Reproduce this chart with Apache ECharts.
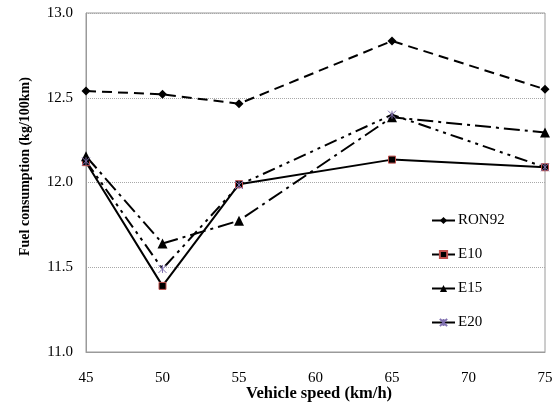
<!DOCTYPE html>
<html>
<head>
<meta charset="utf-8">
<script src="https://cdn.jsdelivr.net/npm/echarts@6/dist/echarts.min.js"></script>
<style>
  html, body { margin: 0; padding: 0; background: #fff; }
  #chart { width: 559px; height: 411px; }
</style>
</head>
<body>
<div id="chart"></div>
<script>
// Vehicle speed (km/h)
const speeds = [45, 50, 55, 65, 75];

// Fuel consumption (kg/100km) per fuel
const ron92 = [12.54, 12.52, 12.465, 12.835, 12.55];
const e10   = [12.12, 11.39, 11.99, 12.135, 12.09];
const e15   = [12.155, 11.64, 11.775, 12.385, 12.295];
const e20   = [12.125, 11.49, 11.985, 12.40, 12.09];

const yTicks = [11.0, 11.5, 12.0, 12.5, 13.0];

const xTitle = 'Vehicle speed (km/h)';
const yTitle = 'Fuel consumption (kg/100km)';

const serif = '"Liberation Serif", "DejaVu Serif", serif';
const starPath = 'path://M0,0 L10,10 M10,0 L0,10 M5,0 L5,10';

function pairs(vals) {
  return speeds.map((s, i) => [s, vals[i]]);
}

const chart = echarts.init(document.getElementById('chart'), null, { renderer: 'canvas' });

chart.setOption({
  animation: false,
  backgroundColor: '#fff',
  grid: {
    left: 86, right: 14, top: 13, bottom: 59,
    show: true, borderColor: '#9a9a9a', borderWidth: 1
  },
  graphic: [
    {
      type: 'text', left: 246, top: 385,
      style: { text: xTitle, fontFamily: serif, fontWeight: 'bold', fontSize: 16.5, fill: '#000' }
    },
    {
      type: 'text', x: 18, y: 256, rotation: Math.PI / 2,
      style: { text: yTitle, fontFamily: serif, fontWeight: 'bold', fontSize: 14, fill: '#000' }
    }
  ],
  xAxis: {
    type: 'value', min: 45, max: 75, interval: 5,
    axisLine: { show: true, lineStyle: { color: '#9a9a9a' } },
    axisTick: { show: false },
    splitLine: { show: false },
    axisLabel: { fontFamily: serif, fontSize: 15, color: '#000', margin: 19 }
  },
  yAxis: {
    type: 'value', min: yTicks[0], max: yTicks[yTicks.length - 1], interval: 0.5,
    axisLine: { show: true, lineStyle: { color: '#9a9a9a' } },
    axisTick: { show: false },
    splitLine: { show: true, lineStyle: { color: '#a8a8a8', type: [1, 1], width: 1 } },
    axisLabel: { fontFamily: serif, fontSize: 15, color: '#000', margin: 13,
      formatter: v => v.toFixed(1) }
  },
  legend: {
    orient: 'vertical', left: 426, top: 207, itemGap: 17,
    itemWidth: 23, itemHeight: 9,
    lineStyle: { type: 'solid', width: 2 },
    textStyle: { fontFamily: serif, fontSize: 15, lineHeight: 17, color: '#000', padding: [0, 0, 0, -2] },
    data: ['RON92', 'E10', 'E15', 'E20']
  },
  series: [
    {
      name: 'RON92', type: 'line', data: pairs(ron92),
      symbol: 'diamond', symbolSize: 9,
      itemStyle: { color: '#000' },
      lineStyle: { color: '#000', width: 2, type: [10, 6] }
    },
    {
      name: 'E10', type: 'line', data: pairs(e10),
      symbol: 'rect', symbolSize: 7,
      itemStyle: { color: '#000', borderColor: '#c0504d', borderWidth: 1 },
      lineStyle: { color: '#000', width: 2, type: 'solid' }
    },
    {
      name: 'E15', type: 'line', data: pairs(e15),
      symbol: 'triangle', symbolSize: 10,
      itemStyle: { color: '#000' },
      lineStyle: { color: '#000', width: 2, type: [16, 5, 3, 5] }
    },
    {
      name: 'E20', type: 'line', data: pairs(e20),
      symbol: starPath, symbolSize: 8,
      itemStyle: { color: 'none', borderColor: '#8070b0', borderWidth: 1 },
      lineStyle: { color: '#000', width: 2, type: [13, 5, 3, 5, 3, 5] }
    }
  ]
});
</script>
</body>
</html>
